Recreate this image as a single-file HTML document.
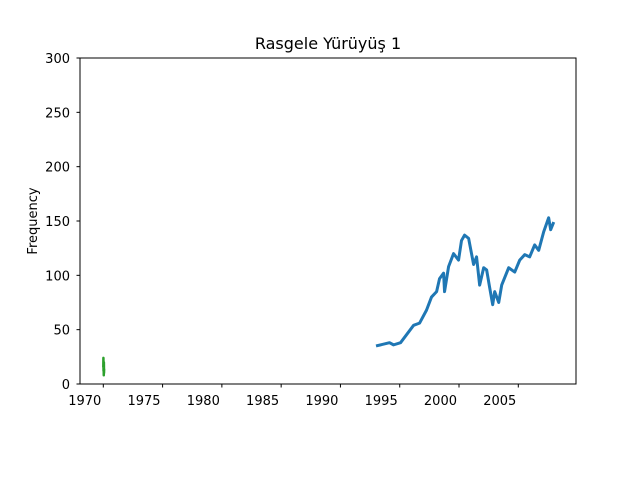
<!DOCTYPE html>
<html><head><meta charset="utf-8"><style>
body{margin:0;background:#fff;}
svg{display:block;font-family:"DejaVu Sans","Liberation Sans",sans-serif;}
</style></head><body>
<svg id="chart" width="640" height="480">
<rect x="0" y="0" width="640" height="480" fill="#fff"/>
<text x="328" y="49" font-size="16" text-anchor="middle">Rasgele Yürüyüş 1</text>
<text transform="translate(37,221) rotate(-90)" font-size="13" text-anchor="middle">Frequency</text>
<g id="plot"></g>
<rect x="80" y="58" width="496" height="326" fill="none" stroke="#000" stroke-width="1"/>
</svg>
<script>
const yTicks=[0,50,100,150,200,250,300];
const xTicks=[1970,1975,1980,1985,1990,1995,2000,2005];
const greenYears=[1970.00,1970.01,1970.02,1970.03,1970.04,1970.05,1970.06,1970.07];
const greenValues=[15,24,12,18,8,20,10,14];
const blueYears=[1993.0,1994.14,1994.48,1995.07,1996.17,1996.67,1997.26,1997.68,1998.11,1998.36,1998.70,1998.78,1999.12,1999.54,1999.96,2000.21,2000.47,2000.81,2001.23,2001.48,2001.74,2002.08,2002.33,2002.58,2002.84,2003.01,2003.35,2003.60,2004.19,2004.70,2005.12,2005.54,2005.96,2006.38,2006.72,2007.14,2007.56,2007.73,2007.99];
const blueValues=[35,38,36,38,54,56,68,80,85,97,102,85,108,120,114,132,137,134,110,117,91,107,105,89,73,85,75,91,107,103,114,119,117,128,123,140,153,142,149];
const X=y=>103.3+(y-1970)*11.857;
const Y=v=>384-v*326/300;
const ns="http://www.w3.org/2000/svg";
const g=document.getElementById('plot');
function mk(t,a){const e=document.createElementNS(ns,t);for(const k in a)e.setAttribute(k,a[k]);g.appendChild(e);return e;}
yTicks.forEach(v=>{
 const t=mk('line',{x1:76.5,x2:80,y1:Y(v),y2:Y(v),stroke:'#000'});
 
 
 const l=mk('text',{x:70,y:Y(v)+5,'font-size':13,'text-anchor':'end'});
 l.textContent=v;
 
 
});
xTicks.forEach(v=>{
 const t=mk('line',{x1:X(v),x2:X(v),y1:384,y2:387.5,stroke:'#000'});
 
 
 const l=mk('text',{x:X(v)-2,y:405,'font-size':13,'text-anchor':'end'});
 l.textContent=v;
 
 
});
const bp=mk('polyline',{points:blueYears.map((y,i)=>X(y)+','+Y(blueValues[i])).join(' '),fill:'none',stroke:'#1f77b4','stroke-width':3,'stroke-linejoin':'round'});


const gp=mk('polyline',{points:greenYears.map((y,i)=>X(y)+','+Y(greenValues[i])).join(' '),fill:'none',stroke:'#2ca02c','stroke-width':2.5,'stroke-linejoin':'round'});


</script>
</body></html>
